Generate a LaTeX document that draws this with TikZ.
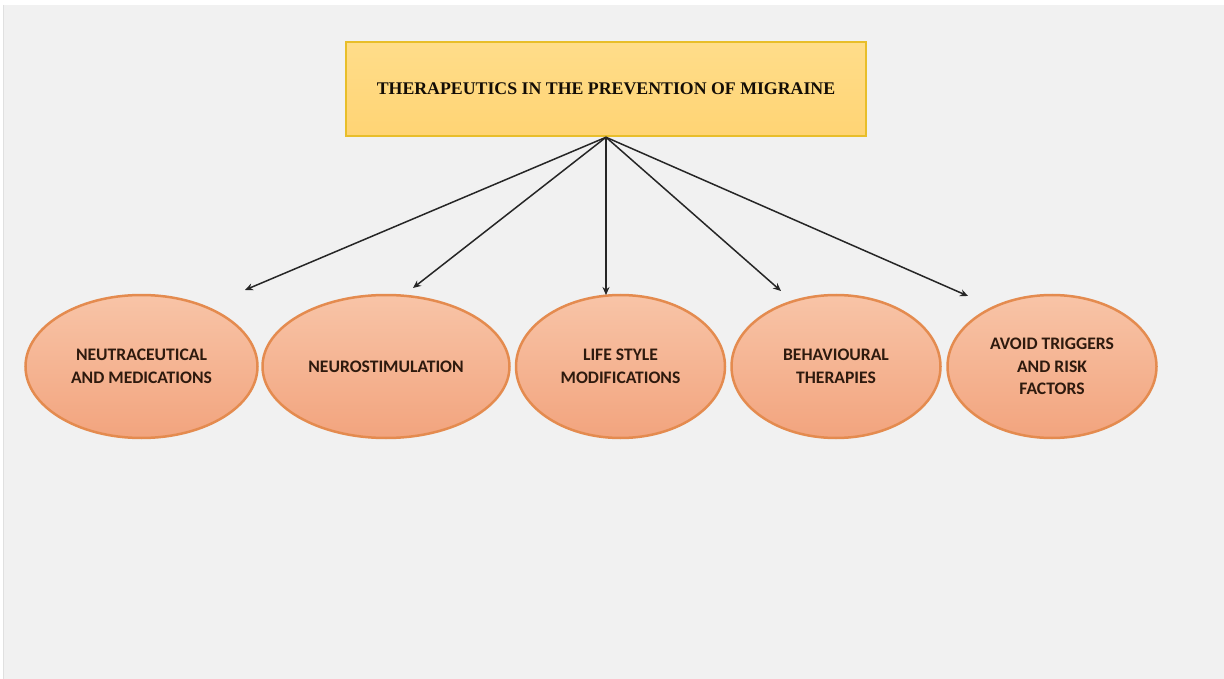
\documentclass[tikz,border=0pt]{standalone}
\usepackage{fontspec}
\setmainfont{Liberation Serif}
\newfontfamily\calib{Carlito}
\usetikzlibrary{arrows.meta,shapes.geometric,shadings}
\definecolor{bggray}{HTML}{F1F1F1}
\definecolor{boxtop}{HTML}{FFDD8A}
\definecolor{boxbot}{HTML}{FFD474}
\definecolor{boxline}{HTML}{E8BE2A}
\definecolor{elltop}{HTML}{F8C4A7}
\definecolor{ellbot}{HTML}{F2A47E}
\definecolor{ellline}{HTML}{E48B4F}
\definecolor{txt}{HTML}{2E1A0E}
\tikzset{
  titlebox/.style={draw=boxline, line width=2.5pt, top color=boxtop, bottom color=boxbot,
    minimum width=520pt, minimum height=94pt, inner sep=0pt, text=black!90!brown,
    font=\fontsize{17.8}{21}\selectfont\bfseries},
  oval/.style={ellipse, draw=ellline, line width=2.5pt, top color=elltop, bottom color=ellbot,
    inner sep=0pt, minimum height=143pt, align=center, text=txt,
    font=\calib\fontsize{17.6}{22.5}\selectfont\bfseries},
  link/.style={line width=1.5pt, draw=black!85, -{Stealth[length=8pt,width=7pt]}}
}
\begin{document}
\begin{tikzpicture}[x=1pt,y=-1pt]
\useasboundingbox (0,0) rectangle (1224,679);
\fill[white] (0,0) rectangle (1224,679);
\fill[bggray] (3,5) rectangle (1224,679);
\draw[black!12, line width=0.6pt] (3.3,5) -- (3.3,679);

\node[titlebox] (top) at (606,89) {THERAPEUTICS IN THE PREVENTION OF MIGRAINE};

\node[oval, minimum width=232pt] (e1) at (141.5,366.5) {NEUTRACEUTICAL\\AND MEDICATIONS};
\node[oval, minimum width=247pt] (e2) at (386,366.5) {NEUROSTIMULATION};
\node[oval, minimum width=209pt] (e3) at (620.5,366.5) {LIFE STYLE\\MODIFICATIONS};
\node[oval, minimum width=209pt] (e4) at (836,366.5) {BEHAVIOURAL\\THERAPIES};
\node[oval, minimum width=209pt] (e5) at (1052,366.5) {AVOID TRIGGERS\\AND RISK\\FACTORS};

\coordinate (a1) at (245,290);
\coordinate (a2) at (413,288);
\coordinate (a3) at (606,295);
\coordinate (a4) at (781,291);
\coordinate (a5) at (968,296);

\foreach \t in {a1,a2,a3,a4,a5}
  \draw[link] (top.south) -- (\t);
\end{tikzpicture}
\end{document}
